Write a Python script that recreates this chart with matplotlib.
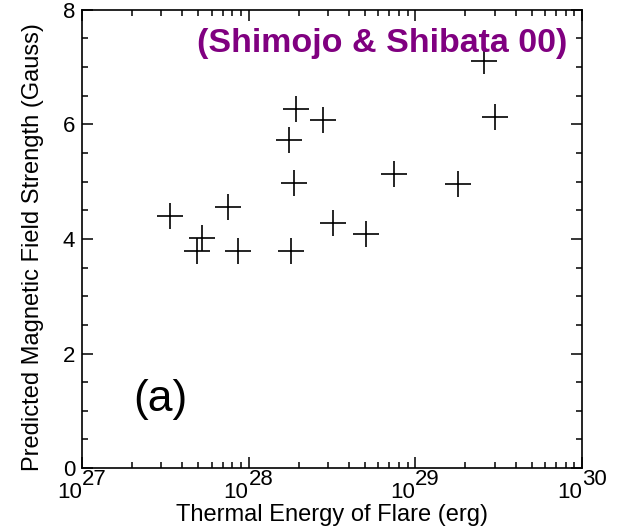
import numpy as np
import matplotlib.pyplot as plt
from matplotlib.ticker import MultipleLocator, LogLocator

plt.rcParams['font.family'] = ['Liberation Sans', 'DejaVu Sans']

# thermal energy (erg) and predicted field strength (Gauss)
energy = [3.37e27, 4.88e27, 5.22e27, 7.48e27, 8.66e27,
          1.74e28, 1.87e28, 1.92e28, 1.79e28, 2.80e28,
          3.19e28, 5.05e28, 7.41e28, 1.80e29, 2.57e29, 2.99e29]
field = [4.40, 3.78, 4.01, 4.56, 3.78,
         5.72, 4.98, 6.27, 3.79, 6.07,
         4.27, 4.08, 5.14, 4.95, 7.10, 6.13]
decades = [27, 28, 29, 30]

fig = plt.figure(figsize=(6.21, 5.32), dpi=100)
ax = fig.add_axes([0.132, 0.120, 0.805, 0.862])

ax.plot(energy, field, linestyle='none', marker='+', markersize=19,
        markeredgewidth=1.2, color='black')

ax.set_xscale('log')
ax.set_xlim(1e27, 1e30)
ax.set_ylim(0, 8)
ax.yaxis.set_major_locator(MultipleLocator(2))
ax.yaxis.set_minor_locator(MultipleLocator(0.5))
ax.xaxis.set_major_locator(LogLocator(base=10))
ax.xaxis.set_minor_locator(LogLocator(base=10, subs=np.arange(2, 10)))

ax.tick_params(which='both', direction='in', top=True, right=True,
               width=1.1, colors='black')
ax.tick_params(which='major', length=8)
ax.tick_params(which='minor', length=4)
ax.tick_params(axis='y', labelsize=16, pad=5)
ax.tick_params(axis='x', labelbottom=False)
for s in ax.spines.values():
    s.set_linewidth(1.2)

# x tick labels: "10" with a big exponent, split at the tick
for e in decades:
    ax.annotate('10', xy=(10.0**e, 0), xycoords=('data', 'axes fraction'),
                xytext=(0, -21.6), textcoords='offset points',
                ha='right', va='baseline', fontsize=16)
    ax.annotate(str(e), xy=(10.0**e, 0), xycoords=('data', 'axes fraction'),
                xytext=(0, -12.2), textcoords='offset points',
                ha='left', va='baseline', fontsize=16)

ylabels = ax.get_yticklabels()
ylabels[0].set_va('bottom')
ylabels[-1].set_va('top')

ax.set_xlabel('Thermal Energy of Flare (erg)', fontsize=17)
ax.xaxis.set_label_coords(0.5, -0.078)
ax.set_ylabel('Predicted Magnetic Field Strength (Gauss)', fontsize=17)
ax.yaxis.set_label_coords(-0.076, 0.482)

ax.text(0.97, 0.925, '(Shimojo & Shibata 00)', transform=ax.transAxes,
        ha='right', va='center', fontsize=24.5, fontweight='bold', color='#800080')
ax.text(0.102, 0.15, '(a)', transform=ax.transAxes,
        ha='left', va='center', fontsize=32)

fig.savefig('out.png', dpi=100)
